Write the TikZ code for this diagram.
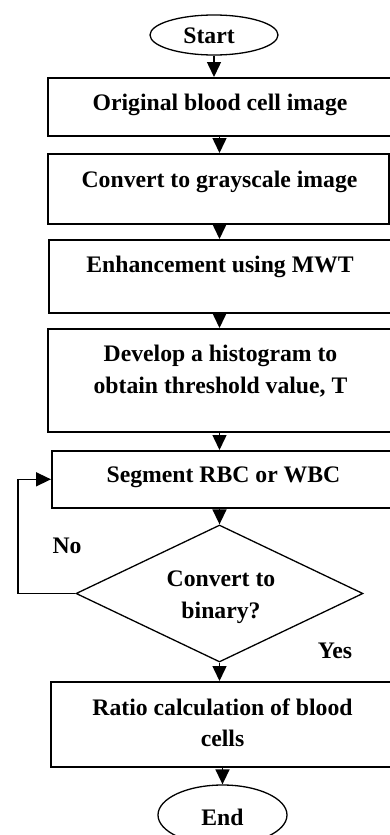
\documentclass[tikz,border=0pt]{standalone}
\usepackage{fontspec}
\setmainfont{Liberation Serif}
\usetikzlibrary{arrows.meta,shapes.geometric}
\begin{document}
\begin{tikzpicture}[x=1pt,y=-1pt,
  box/.style={draw,line width=1.6pt,anchor=north west,inner sep=0pt},
  txt/.style={font=\fontsize{23.7}{31.5}\selectfont\bfseries,align=center,inner sep=0pt,anchor=base},
  arr/.style={line width=1.5pt,-{Triangle[width=14pt,length=15pt]}},
  term/.style={draw,ellipse,line width=1.3pt,inner sep=0pt}]
\useasboundingbox (0,0) rectangle (390,835);
\clip (0,0) rectangle (390,835);
% shapes
\node[term,minimum width=128pt,minimum height=40pt] (start) at (214,35) {};
\node[box,minimum width=348pt,minimum height=58pt] (b1) at (47,77) {};
\node[box,minimum width=341pt,minimum height=70pt] (b2) at (47,153) {};
\node[box,minimum width=347pt,minimum height=73pt] (b3) at (48,239) {};
\node[box,minimum width=348pt,minimum height=103pt] (b4) at (47,328) {};
\node[box,minimum width=344pt,minimum height=57pt] (b5) at (51,450) {};
\node[draw,diamond,line width=1.3pt,minimum width=287pt,minimum height=137pt,inner sep=0pt] (dia) at (219.5,593.5) {};
\node[box,minimum width=345pt,minimum height=85pt] (b6) at (50,681) {};
\node[term,minimum width=129pt,minimum height=60pt] (end) at (222.5,815) {};
% texts (multi-line nodes: base = last line)
\node[txt] (tstart) at (209,43.3) {Start};
\node[txt] (t1) at (220,110) {Original blood cell image};
\node[txt] (t2) at (219.5,187) {Convert to grayscale image};
\node[txt] (t3) at (220,272.7) {Enhancement using MWT};
\node[txt] (t4) at (220.5,393.3) {Develop a histogram to\\obtain threshold value, T};
\node[txt] (t5) at (223.5,482.7) {Segment RBC or WBC};
\node[txt] (tdia) at (221,618.3) {Convert to\\binary?};
\node[txt] (t6) at (222.5,746.7) {Ratio calculation of blood\\cells};
\node[txt] (tend) at (222.5,825) {End};
\node[txt] (no) at (67,553.3) {No};
\node[txt] (yes) at (335,658.3) {Yes};
% connectors
\coordinate (lp) at (18,593.5);
\draw[arr] (start.south) -- (start.south |- b1.north);
\draw[arr] (b1.south -| dia.north) -- (b2.north -| dia.north);
\draw[arr] (b2.south -| dia.north) -- (b3.north -| dia.north);
\draw[arr] (b3.south -| dia.north) -- (b4.north -| dia.north);
\draw[arr] (b4.south -| dia.north) -- (b5.north -| dia.north);
\draw[arr] (b5.south -| dia.north) -- (dia.north);
\draw[arr] (dia.south) -- (b6.north -| dia.south);
\draw[arr] (b6.south -| end.north) -- (end.north);
\draw[arr] (dia.west) -- (lp) |- (b5.west);
\end{tikzpicture}
\end{document}
